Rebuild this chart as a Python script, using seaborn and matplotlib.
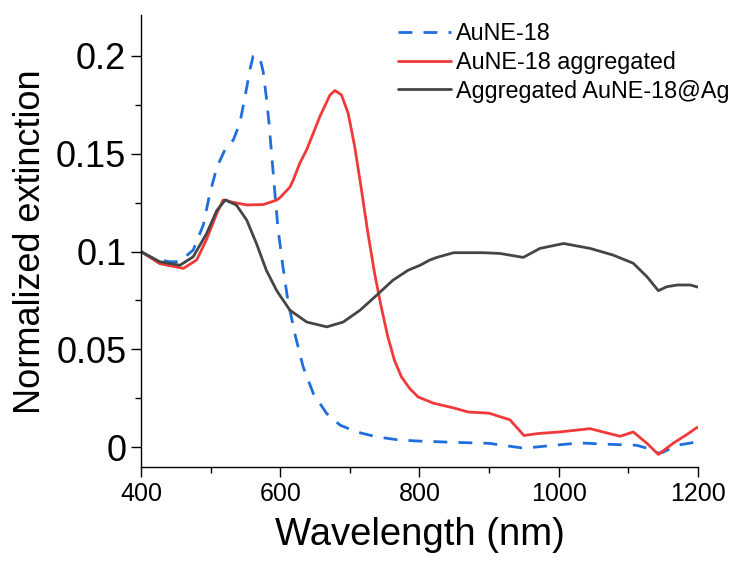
import numpy as np
import pandas as pd
import matplotlib
matplotlib.use("Agg")
import matplotlib.pyplot as plt
import seaborn as sns
from matplotlib.ticker import MultipleLocator

# ---- data ----
wl_blue = [400, 418, 441, 455, 475, 489.5, 499, 509, 520.6, 532.6, 542, 549.4, 556.6, 561,
           566, 570.8, 575.5, 580, 584, 587.6, 592, 597, 600, 604, 611, 621, 633, 647.6,
           666.8, 686, 710, 738.6, 767, 796, 850, 900, 950, 993, 1030, 1073, 1112, 1127,
           1143, 1150, 1170, 1198, 1200]
ext_blue = [0.1, 0.0964, 0.0948, 0.0948, 0.1007, 0.1135, 0.1297, 0.143, 0.152, 0.157,
            0.1655, 0.179, 0.193, 0.1997, 0.2005, 0.199, 0.192, 0.179, 0.1655, 0.150,
            0.1315, 0.111, 0.103, 0.092, 0.075, 0.058, 0.041, 0.0274, 0.0172, 0.0113,
            0.0078, 0.0053, 0.0039, 0.0032, 0.0025, 0.002, -0.0005, 0.001, 0.0022, 0.0015,
            0.001, -0.0005, -0.003, -0.0025, 0.001, 0.0027, 0.0028]

wl_red = [400, 427, 461, 480, 494, 509, 518, 523, 527.8, 551.7, 575.7, 595, 599.6, 614,
          618.8, 628, 638, 657, 671.5, 678.7, 688, 697.6, 707, 716.7, 726, 735.6, 745,
          754.6, 764, 774, 786, 798, 820, 850, 870, 900, 930, 950, 970, 1001, 1045, 1088,
          1107, 1127, 1143, 1165, 1184, 1198, 1200]
ext_red = [0.1, 0.0938, 0.0914, 0.0957, 0.106, 0.1195, 0.1263, 0.1262, 0.1255, 0.1238,
           0.124, 0.1263, 0.1275, 0.133, 0.1366, 0.145, 0.152, 0.169, 0.180, 0.1823, 0.180,
           0.1706, 0.1536, 0.1315, 0.1093, 0.0888, 0.0718, 0.0564, 0.0445, 0.036, 0.030,
           0.0257, 0.0225, 0.020, 0.018, 0.0174, 0.014, 0.006, 0.007, 0.0078, 0.0095,
           0.0056, 0.0078, 0.0019, -0.0037, 0.0022, 0.0065, 0.010, 0.0102]

wl_ag = [400, 427, 456, 475, 494, 509, 521, 537, 552, 566, 580, 595, 614, 638, 667, 690.5,
         714.6, 738.6, 762, 784, 801, 815, 825, 849, 892, 916, 949, 973, 1007, 1045, 1078,
         1107, 1127, 1143, 1155, 1170, 1189, 1198, 1200]
ext_ag = [0.0999, 0.0948, 0.093, 0.0973, 0.109, 0.121, 0.1263, 0.1238, 0.116, 0.104,
          0.0905, 0.080, 0.070, 0.064, 0.0615, 0.064, 0.070, 0.0777, 0.0854, 0.0905, 0.093,
          0.0957, 0.097, 0.0994, 0.0994, 0.099, 0.097, 0.1016, 0.1041, 0.1016, 0.0982,
          0.094, 0.087, 0.080, 0.082, 0.0829, 0.0829, 0.082, 0.0818]

labels = ["AuNE-18", "AuNE-18 aggregated", "Aggregated AuNE-18@Ag"]
colors = ["#1E6FDC", "#F03A3A", "#454545"]

df = pd.concat([
    pd.DataFrame({"wl": wl_blue, "ext": ext_blue, "sample": labels[0]}),
    pd.DataFrame({"wl": wl_red, "ext": ext_red, "sample": labels[1]}),
    pd.DataFrame({"wl": wl_ag, "ext": ext_ag, "sample": labels[2]}),
])

sns.set_style("ticks")
plt.rcParams['font.family'] = ['Liberation Sans', 'DejaVu Sans']
plt.rcParams['text.color'] = 'black'
plt.rcParams['axes.labelcolor'] = 'black'
plt.rcParams['xtick.color'] = 'black'
plt.rcParams['ytick.color'] = 'black'

fig = plt.figure(figsize=(7.34, 5.67), dpi=100)
ax = fig.add_axes([0.192, 0.176, 0.759, 0.797])

styles = {labels[0]: (0, (5, 4)), labels[1]: "-", labels[2]: "-"}
for lab, col in zip(labels, colors):
    sub = df[df["sample"] == lab]
    sns.lineplot(data=sub, x="wl", y="ext", ax=ax, color=col, lw=2.0,
                 linestyle=styles[lab], label=lab, sort=False)

ax.set_xlim(400, 1200)
ax.set_ylim(-0.0102, 0.2207)
ax.xaxis.set_major_locator(MultipleLocator(200))
ax.xaxis.set_minor_locator(MultipleLocator(100))
ax.yaxis.set_minor_locator(MultipleLocator(0.025))
ax.set_yticks([0, 0.05, 0.1, 0.15, 0.2])
ax.set_yticklabels(["0", "0.05", "0.1", "0.15", "0.2"])

ax.tick_params(axis="y", which="major", labelsize=26, length=7, width=1, direction="out")
ax.tick_params(axis="x", which="major", labelsize=18, length=7, width=1, direction="out")
ax.tick_params(which="minor", length=4, width=1, direction="out")

for s in ["top", "right"]:
    ax.spines[s].set_visible(False)
for s in ["left", "bottom"]:
    ax.spines[s].set_linewidth(1.0)
    ax.spines[s].set_color("black")

ax.set_xlabel("Wavelength (nm)", fontsize=27.5, labelpad=8)
ax.set_ylabel("Normalized extinction", fontsize=26, labelpad=6)

leg = ax.legend(loc="upper left", bbox_to_anchor=(0.444, 1.006), frameon=False,
                fontsize=16.8, handlelength=2.3, handletextpad=0.2, labelspacing=0.25,
                borderaxespad=0)

fig.savefig("out.png", dpi=100)
